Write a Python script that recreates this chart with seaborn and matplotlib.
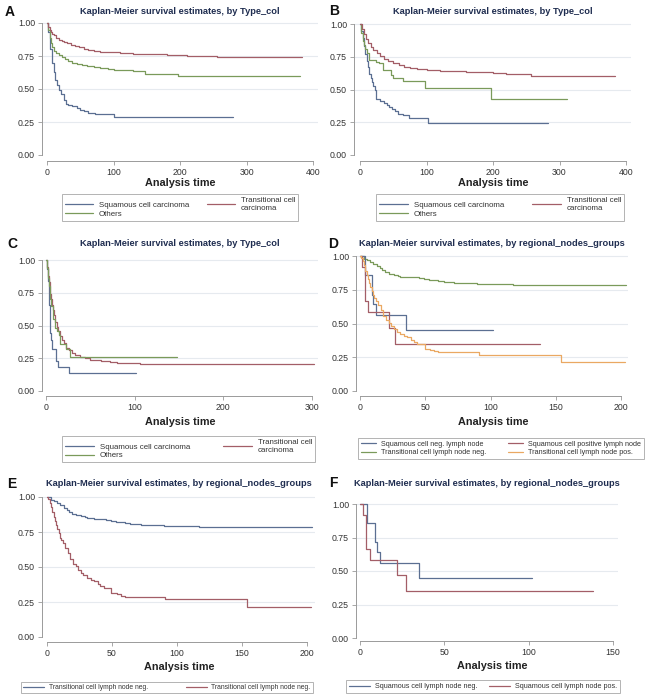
import numpy as np
import pandas as pd
import seaborn as sns
import matplotlib.pyplot as plt
from matplotlib.lines import Line2D

sns.set_theme(style="white")
plt.rcParams['font.family'] = ['Liberation Sans', 'DejaVu Sans']

# colours (Stata s2color-ish, as they look in the picture)
BLUE = '#5b6f92'
RED = '#a35e67'
GREEN = '#7a9a5a'
ORANGE = '#eaa862'
TITLE_C = '#1f2d50'

# ---- data (time, survival) ----
# panel A
A_sq_t = [0, 2, 4, 5, 7, 10, 12, 15, 18, 21, 25, 28, 32, 38, 45, 50, 55, 62, 72, 100, 280]
A_sq_s = [1, .93, .86, .80, .70, .63, .57, .53, .49, .46, .42, .39, .38, .37, .355, .34, .33, .32, .31, .29, .29]
A_tr_t = [0, 2, 4, 6, 8, 10, 14, 18, 22, 26, 30, 36, 42, 48, 55, 62, 70, 80, 95, 110, 130, 150, 180, 210, 240, 255, 262, 383]
A_tr_s = [1, .97, .95, .93, .92, .91, .89, .875, .865, .855, .845, .835, .825, .815, .805, .797, .789, .782, .777, .772, .768, .762, .757, .752, .748, .744, .74, .74]
A_ot_t = [0, 2, 4, 6, 8, 11, 14, 18, 22, 27, 32, 38, 45, 52, 60, 70, 80, 92, 100, 115, 130, 148, 197, 380]
A_ot_s = [1, .95, .89, .85, .82, .79, .775, .76, .745, .73, .715, .70, .69, .68, .675, .665, .658, .65, .645, .642, .638, .615, .597, .597]

# panel B
B_sq_t = [0, 2, 4, 6, 8, 10, 12, 14, 16, 18, 20, 22, 24, 30, 36, 40, 44, 48, 52, 57, 65, 73, 103, 282]
B_sq_s = [1, .95, .89, .83, .77, .72, .67, .62, .59, .56, .53, .50, .43, .41, .40, .385, .37, .35, .335, .315, .305, .28, .244, .244]
B_tr_t = [0, 3, 6, 9, 12, 16, 20, 25, 30, 36, 42, 50, 58, 66, 75, 85, 100, 120, 140, 160, 180, 200, 220, 240, 257, 384]
B_tr_s = [1, .96, .92, .885, .855, .825, .80, .775, .755, .735, .72, .70, .685, .672, .662, .655, .647, .642, .638, .635, .632, .627, .622, .615, .602, .602]
B_ot_t = [0, 2, 4, 6, 8, 10, 14, 24, 28, 34, 46, 50, 56, 65, 98, 197, 312]
B_ot_s = [1, .93, .87, .84, .81, .78, .725, .71, .70, .65, .61, .59, .585, .565, .51, .43, .43]

# panel C
C_sq_t = [0, 1, 2, 3, 4, 5, 6, 7, 11, 13, 26, 102]
C_sq_s = [1, .93, .84, .66, .61, .445, .39, .32, .23, .18, .14, .14]
C_tr_t = [0, 1, 2, 3, 4, 5, 6, 7, 8, 9, 10, 12, 14, 16, 18, 20, 23, 26, 29, 33, 38, 44, 50, 56, 62, 72, 80, 106, 302]
C_tr_s = [1, .95, .88, .83, .78, .74, .70, .66, .62, .58, .53, .49, .455, .42, .39, .37, .33, .31, .29, .275, .26, .25, .24, .235, .228, .218, .215, .209, .209]
C_ot_t = [0, 1, 2, 3, 4, 5, 6, 8, 10, 12, 15, 16, 23, 27, 148]
C_ot_s = [1, .94, .86, .80, .78, .70, .65, .55, .48, .46, .43, .356, .32, .262, .262]

# panels D, E, F (regional nodes groups)
SQN_t = [0, 4, 9, 10, 12, 35, 102]
SQN_s = [1, .857, .714, .643, .562, .45, .45]
SQP_t = [0, 1.6, 3.5, 6, 22, 27, 138]
SQP_s = [1, .917, .667, .583, .467, .35, .35]
TRN_t = [0, 3, 5, 8, 10, 13, 15, 17, 19, 22, 26, 29, 31, 36, 41, 45, 49, 53, 56, 60, 64, 67, 72, 77, 90, 105, 117, 204]
TRN_s = [1, .98, .97, .955, .94, .925, .91, .895, .88, .87, .862, .855, .848, .845, .843, .838, .827, .823, .82, .815, .81, .806, .80, .797, .796, .795, .786, .786]
TRP_t = [0, 1, 2, 3, 4, 5, 6, 7, 8, 9, 10, 11, 12, 14, 16, 18, 20, 22, 24, 26, 28, 31, 34, 36, 39, 41, 44, 49.5, 54, 57, 60, 91, 154, 203]
TRP_s = [1, .985, .96, .93, .89, .86, .83, .80, .77, .74, .71, .69, .67, .637, .60, .555, .525, .505, .48, .458, .44, .423, .41, .40, .38, .363, .347, .311, .304, .295, .287, .268, .216, .216]

TYPE_TITLE = 'Kaplan-Meier survival estimates, by Type_col'
NODE_TITLE = 'Kaplan-Meier survival estimates, by regional_nodes_groups'

W, H = 652, 699
fig = plt.figure(figsize=(W / 100, H / 100), dpi=100)


def panel(letter, title, series, xticks, geom, leg_entries, leg_box, hlen, lfs, lab_xy):
    # geom in pixels: left spine, right edge, x of 0, x of xmax, xmax, y of 1, y of 0, bottom spine
    xl, xr, x0, xm, xmax, yt, yb, ybs = geom
    ax = fig.add_axes([xl / W, 1 - ybs / H, (xr - xl) / W, (ybs - yt + 2) / H])
    sx = (xm - x0) / xmax
    sy = yb - yt
    ax.set_xlim(-(x0 - xl) / sx, (xr - x0) / sx)
    ax.set_ylim(-(ybs - yb) / sy, 1 + 2 / sy)

    for t, s, c in series:
        df = pd.DataFrame({'t': t, 's': s})
        sns.lineplot(data=df, x='t', y='s', ax=ax, color=c, lw=0.9,
                     drawstyle='steps-post', estimator=None, sort=False, legend=False)

    for g in [0.25, 0.5, 0.75, 1.0]:
        ax.axhline(g, color='#e6eaef', lw=0.8, zorder=0)

    ax.set_yticks([0, 0.25, 0.5, 0.75, 1.0])
    ax.set_yticklabels(['0.00', '0.25', '0.50', '0.75', '1.00'])
    ax.set_xticks(xticks)
    ax.set_xticklabels([str(x) for x in xticks])
    ax.tick_params(axis='both', labelsize=6.3, length=3, width=0.6,
                   direction='out', pad=2, left=True, bottom=True,
                   colors='#999999', labelcolor='#333333')
    for side in ['top', 'right']:
        ax.spines[side].set_visible(False)
    for side in ['left', 'bottom']:
        ax.spines[side].set_color('#9a9a9a')
        ax.spines[side].set_linewidth(0.7)
    ax.spines['left'].set_bounds(0, 1)
    ax.spines['bottom'].set_bounds(0, xticks[-1])
    ax.set_xlabel('')
    ax.set_ylabel('')

    cx = (xl + xr) / 2
    fig.text(cx / W, 1 - lab_xy[1] / H, title, ha='center', va='center',
             fontsize=6.7, fontweight='bold', color=TITLE_C)
    fig.text(lab_xy[0] / W, 1 - lab_xy[1] / H, letter, ha='left', va='center',
             fontsize=10, fontweight='bold', color='#111111')
    fig.text(lab_xy[2] / W, 1 - lab_xy[3] / H, 'Analysis time', ha='center', va='center',
             fontsize=7.8, fontweight='bold', color='#222222')

    handles = [Line2D([], [], color=c, lw=0.9) for _, c in leg_entries]
    labels = [l for l, _ in leg_entries]
    bx0, bx1, by0, by1 = leg_box
    leg = fig.legend(handles, labels, ncol=2, mode='expand', loc='center',
                     bbox_to_anchor=(bx0 / W, 1 - by1 / H, (bx1 - bx0) / W, (by1 - by0) / H),
                     fontsize=lfs, frameon=True, fancybox=False, handlelength=hlen,
                     handletextpad=0.7, borderpad=0.35, labelspacing=0.15,
                     columnspacing=1.0, borderaxespad=0)
    leg.get_frame().set_edgecolor('#a0a0a0')
    leg.get_frame().set_linewidth(0.7)
    for txt in leg.get_texts():
        txt.set_color('#333333')
    return ax


type_leg = [('Squamous cell carcinoma', BLUE), ('Others', GREEN),
            ('Transitional cell\ncarcinoma', RED)]

panel('A', TYPE_TITLE,
      [(A_sq_t, A_sq_s, BLUE), (A_ot_t, A_ot_s, GREEN), (A_tr_t, A_tr_s, RED)],
      [0, 100, 200, 300, 400],
      (42, 318, 47, 313, 400, 23, 155, 161),
      type_leg, (62, 298, 195, 220), 3.6, 5.7, (5, 12, 180, 183))

panel('B', TYPE_TITLE,
      [(B_sq_t, B_sq_s, BLUE), (B_ot_t, B_ot_s, GREEN), (B_tr_t, B_tr_s, RED)],
      [0, 100, 200, 300, 400],
      (354, 631, 360, 626, 400, 24, 155, 161),
      type_leg, (376, 624, 195, 220), 3.7, 5.7, (329, 11, 493, 183))

panel('C', TYPE_TITLE,
      [(C_sq_t, C_sq_s, BLUE), (C_tr_t, C_tr_s, RED), (C_ot_t, C_ot_s, GREEN)],
      [0, 100, 200, 300],
      (42, 318, 46, 312, 300, 260, 391, 396),
      type_leg, (62, 315, 437, 461), 3.7, 5.7, (7, 244, 180, 422))

panel('D', NODE_TITLE,
      [(TRN_t, TRN_s, GREEN), (SQN_t, SQN_s, BLUE), (SQP_t, SQP_s, RED), (TRP_t, TRP_s, ORANGE)],
      [0, 50, 100, 150, 200],
      (356, 628, 360, 621, 200, 256, 391, 396),
      [('Squamous cell neg. lymph node', BLUE), ('Transitional cell lymph node neg.', GREEN),
       ('Squamous cell positive lymph node', RED), ('Transitional cell lymph node pos.', ORANGE)],
      (358, 644, 436, 461), 2.1, 5.2, (328, 244, 493, 422))

panel('E', NODE_TITLE,
      [(TRN_t, TRN_s, BLUE), (TRP_t, TRP_s, RED)],
      [0, 50, 100, 150, 200],
      (42, 315, 47, 307, 200, 497, 637, 642),
      [('Transitional cell lymph node neg.', BLUE), ('Transitional cell lymph node neg.', RED)],
      (21, 313, 681, 694), 3.0, 4.9, (7, 484, 179, 667))

panel('F', NODE_TITLE,
      [(SQN_t, SQN_s, BLUE), (SQP_t, SQP_s, RED)],
      [0, 50, 100, 150],
      (356, 618, 360, 613, 150, 504, 638, 641),
      [('Squamous cell lymph node neg.', BLUE), ('Squamous cell lymph node pos.', RED)],
      (346, 620, 679, 694), 3.0, 5.2, (329, 483, 492, 666))

fig.savefig('out.png', dpi=100)
